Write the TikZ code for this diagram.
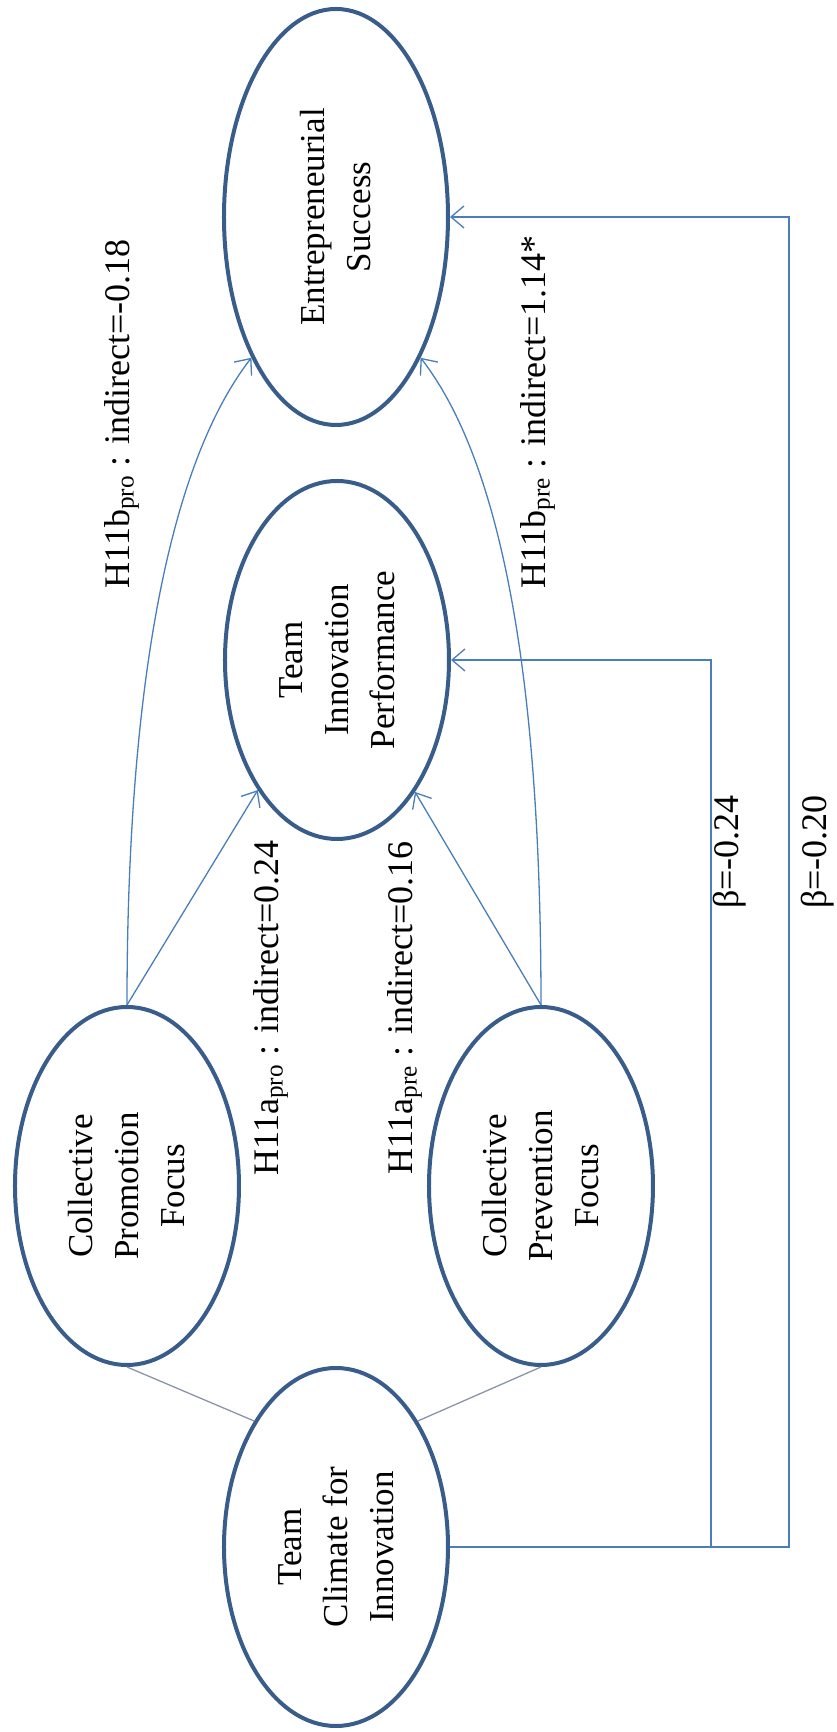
\documentclass[tikz,border=0pt]{standalone}
\usepackage{fontspec}
\setmainfont{Liberation Serif}
\usetikzlibrary{arrows.meta,shapes.geometric}
\definecolor{outline}{HTML}{385D8A}
\definecolor{link}{HTML}{4A7EBB}
\definecolor{plainlink}{HTML}{8A94A6}
\begin{document}
% The model is laid out left to right and the whole picture is turned a quarter turn.
\begin{tikzpicture}[rotate=90, transform shape, x=1pt, y=1pt,
  construct/.style={ellipse, draw=outline, line width=4pt, fill=white,
    inner sep=0pt, minimum width=358pt, minimum height=224pt,
    align=center, font=\fontsize{35}{46}\selectfont},
  lbl/.style={inner sep=0pt, font=\fontsize{36}{44}\selectfont},
  arr/.style={draw=link, line width=1.3pt,
    -{Straight Barb[length=13pt, width=22pt, line width=1.3pt]}},
  plain/.style={draw=plainlink, line width=1.3pt}]
\useasboundingbox (0,0) rectangle (1732,836);

% constructs
\node[construct] (tci)  at (185,500)  {Team\\Climate for\\Innovation};
\node[construct] (cpf)  at (546,709)  {Collective\\Promotion\\Focus};
\node[construct] (cprf) at (546,295)  {Collective\\Prevention\\Focus};
\node[construct] (tip)  at (1072,499) {Team\\Innovation\\Performance};
\node[construct, minimum width=416pt] (es) at (1515,500) {Entrepreneurial\\Success};

% antecedent links
\draw[plain] (cpf.west) -- (tci.33);
\draw[plain] (cprf.west) -- (tci.-33);

% mediation paths
\draw[arr] (cpf.east) -- (tip);
\draw[arr] (cprf.east) -- (tip);
\draw[arr] (cpf.east) .. controls +(274,0) and +(-120,93) .. (es.149);
\draw[arr] (cprf.east) .. controls +(274,0) and +(-120,-93) .. (es.211);

% direct paths from the climate
\coordinate (r1) at (1072,125);
\coordinate (r2) at (1515,47);
\draw[arr] (tci.south) |- (r1) -- (tip.south);
\draw[arr] (tci.south) |- (r2) -- (es.south);

% path labels
\node[lbl] (l1) at (1318,714) {H11b\textsubscript{pro} : indirect=-0.18};
\node[lbl] (l2) at (1320,298) {H11b\textsubscript{pre} : indirect=1.14*};
\node[lbl] (l3) at (724,565)  {H11a\textsubscript{pro} : indirect=0.24};
\node[lbl] (l4) at (724,431)  {H11a\textsubscript{pre} : indirect=0.16};
\node[lbl] (l5) at (880,106)  {β=-0.24};
\node[lbl] (l6) at (880,18)   {β=-0.20};
\end{tikzpicture}
\end{document}
